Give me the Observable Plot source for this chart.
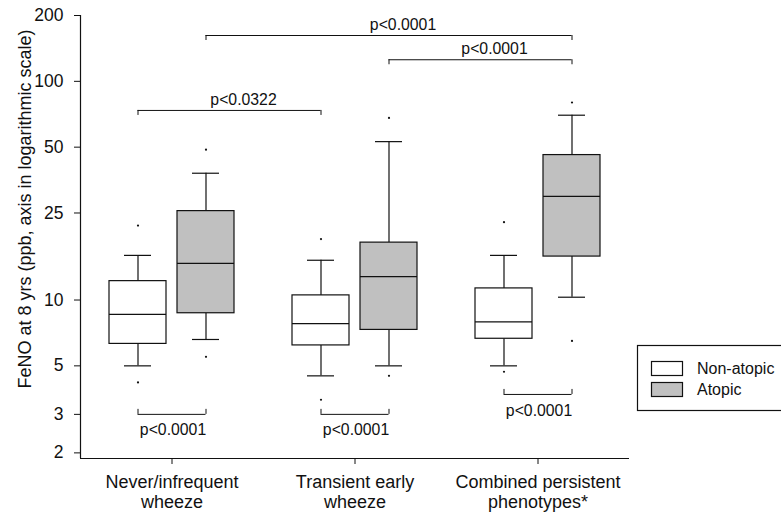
<!DOCTYPE html>
<html>
<head>
<meta charset="utf-8">
<script src="https://cdn.jsdelivr.net/npm/d3@7"></script>
<script src="https://cdn.jsdelivr.net/npm/@observablehq/plot@0.6"></script>
<style>
  body { margin: 0; background: #fff; }
  #chart svg { display: block; }
</style>
</head>
<body>
<div id="chart"></div>
<script>
// Wheeze phenotypes along the x axis
const groups = ["Never/infrequent\nwheeze", "Transient early\nwheeze", "Combined persistent\nphenotypes*"];
// Atopy status within each phenotype
const atopy = ["Non-atopic", "Atopic"];

// FeNO percentiles (ppb); order: phenotype × atopy
const p5  = [4.2, 5.5, 3.5, 4.5, 4.7, 6.5];
const p10 = [5.0, 6.6, 4.5, 5.0, 5.0, 10.3];
const p25 = [6.3, 8.7, 6.2, 7.3, 6.65, 15.8];
const p50 = [8.6, 14.7, 7.8, 12.8, 7.95, 29.8];
const p75 = [12.2, 25.5, 10.5, 18.3, 11.3, 46];
const p90 = [16.0, 38, 15.2, 53, 16.0, 70];
const p95 = [21.9, 48.7, 19.0, 68, 22.7, 80];

const yTicks = [2, 3, 5, 10, 25, 50, 100, 200];

// Pairwise comparisons between boxes (box index = phenotype*2 + atopy)
const cmpFrom  = [0, 2, 4, 0, 3, 1];
const cmpTo    = [1, 3, 5, 2, 5, 5];
const cmpText  = ["p<0.0001", "p<0.0001", "p<0.0001", "p<0.0322", "p<0.0001", "p<0.0001"];
const cmpLevel = [3.0, 3.0, 3.7, 73.6, 125.5, 162];
const cmpAbove = [false, false, false, true, true, true];

// Layout (pixels)
const W = 781, H = 512;
const mL = 80, mR = 152, mT = 15, mB = 54;
const step = (W - mL - mR) / groups.length;   // width of one phenotype band
const off = 34 / step;                        // box centre offset from band centre
const half = 28.5 / step;                     // half box width
const cap = 13.5 / step;                      // half whisker-cap width
const font = "'Liberation Sans', Arial, Helvetica, sans-serif";

const boxes = p50.map((_, k) => ({
  x: Math.floor(k / 2) + (k % 2 ? off : -off),
  atopy: atopy[k % 2],
  p5: p5[k], p10: p10[k], p25: p25[k], p50: p50[k],
  p75: p75[k], p90: p90[k], p95: p95[k]
}));

const cmps = cmpFrom.map((a, i) => ({
  xa: boxes[a].x, xb: boxes[cmpTo[i]].x,
  level: cmpLevel[i], text: cmpText[i], above: cmpAbove[i]
}));

const yMin = 1.885;
const ink = "#111";
const sw = 1.2;

const chart = Plot.plot({
  width: W, height: H,
  marginLeft: mL, marginRight: mR, marginTop: mT, marginBottom: mB,
  style: { fontFamily: font, background: "#fff", color: ink },
  x: { type: "linear", domain: [-0.5, groups.length - 0.5] },
  y: { type: "log", domain: [yMin, 200] },
  color: { domain: atopy, range: ["#ffffff", "#c0c0c0"] },
  marks: [
    // whiskers
    Plot.ruleX(boxes, { x: "x", y1: "p10", y2: "p25", stroke: ink, strokeWidth: sw }),
    Plot.ruleX(boxes, { x: "x", y1: "p75", y2: "p90", stroke: ink, strokeWidth: sw }),
    Plot.ruleY(boxes, { y: "p10", x1: d => d.x - cap, x2: d => d.x + cap, stroke: ink, strokeWidth: sw }),
    Plot.ruleY(boxes, { y: "p90", x1: d => d.x - cap, x2: d => d.x + cap, stroke: ink, strokeWidth: sw }),
    // interquartile boxes
    Plot.rect(boxes, { x1: d => d.x - half, x2: d => d.x + half, y1: "p25", y2: "p75",
      fill: "atopy", stroke: ink, strokeWidth: sw }),
    // medians
    Plot.ruleY(boxes, { y: "p50", x1: d => d.x - half, x2: d => d.x + half, stroke: ink, strokeWidth: sw }),
    // 5th / 95th percentiles
    Plot.dot(boxes, { x: "x", y: "p5", r: 1.1, fill: ink, stroke: null }),
    Plot.dot(boxes, { x: "x", y: "p95", r: 1.1, fill: ink, stroke: null }),

    // comparison brackets
    Plot.ruleY(cmps, { y: "level", x1: "xa", x2: "xb", stroke: ink, strokeWidth: 1 }),
    Plot.ruleX(cmps.filter(d => d.above), { x: "xa", y1: "level", y2: "level", insetTop: 0, insetBottom: -5, stroke: ink, strokeWidth: 1 }),
    Plot.ruleX(cmps.filter(d => d.above), { x: "xb", y1: "level", y2: "level", insetTop: 0, insetBottom: -5, stroke: ink, strokeWidth: 1 }),
    Plot.ruleX(cmps.filter(d => !d.above), { x: "xa", y1: "level", y2: "level", insetTop: -5, insetBottom: 0, stroke: ink, strokeWidth: 1 }),
    Plot.ruleX(cmps.filter(d => !d.above), { x: "xb", y1: "level", y2: "level", insetTop: -5, insetBottom: 0, stroke: ink, strokeWidth: 1 }),
    Plot.text(cmps.filter(d => d.above), { x: d => (d.xa + d.xb) / 2, y: "level", text: "text",
      dx: 14, dy: -11, fontSize: 15.8, fill: ink }),
    Plot.text(cmps.filter(d => !d.above), { x: d => (d.xa + d.xb) / 2, y: "level", text: "text",
      dx: 1, dy: 16, fontSize: 15.8, fill: ink }),

    // axis lines
    Plot.ruleX([-0.5], { stroke: ink, strokeWidth: 1.2 }),
    Plot.ruleY([yMin], { stroke: ink, strokeWidth: 1.2 }),

    Plot.axisY({ ticks: yTicks, tickFormat: d => String(d), tickSize: 6, tickPadding: 11,
      fontSize: 17.5, label: null, stroke: ink }),
    Plot.axisX({ ticks: d3.range(groups.length), tickFormat: i => groups[i], tickSize: 6,
      tickPadding: 9, fontSize: 18, lineHeight: 1.11, label: null, stroke: ink }),

    // y-axis title
    Plot.text(["FeNO at 8 yrs (ppb, axis in logarithmic scale)"], {
      frameAnchor: "left", textAnchor: "middle", dx: -55, dy: -28, rotate: -90, fontSize: 18, fill: ink
    })
  ]
});

// Legend box in the right margin
const svg = d3.select(chart);
const lg = svg.append("g").attr("font-family", font).attr("font-size", 16)
  .attr("fill", ink).attr("text-anchor", "start");
lg.append("rect").attr("x", 637.5).attr("y", 345.5).attr("width", 160).attr("height", 65)
  .attr("fill", "none").attr("stroke", ink).attr("stroke-width", 1.2);
atopy.forEach((a, i) => {
  const y = 361 + i * 21;
  lg.append("rect").attr("x", 651.5).attr("y", y + 0.5).attr("width", 31).attr("height", 14)
    .attr("fill", i ? "#c0c0c0" : "#ffffff").attr("stroke", ink).attr("stroke-width", 1.2);
  lg.append("text").attr("x", 697).attr("y", y + 7.5).attr("dy", "0.35em").text(a);
});

document.getElementById("chart").appendChild(chart);
</script>
</body>
</html>
